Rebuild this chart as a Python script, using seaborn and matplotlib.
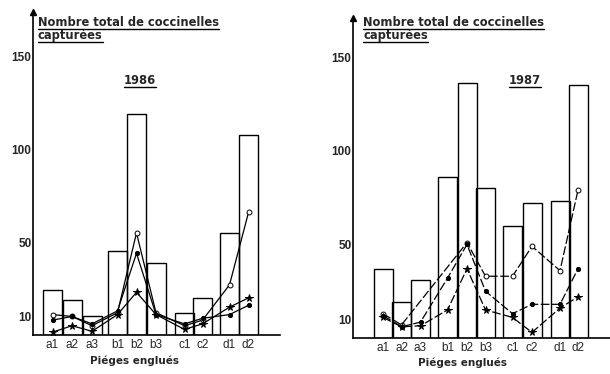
import numpy as np
import pandas as pd
import matplotlib
matplotlib.use("Agg")
import matplotlib.pyplot as plt
from matplotlib.lines import Line2D
import seaborn as sns

# trap labels
traps = ["a1", "a2", "a3", "b1", "b2", "b3", "c1", "c2", "d1", "d2"]

# 1986 - total captured per trap (bars) and three sampling series (lines)
tot_1986 = [24, 19, 10, 45, 119, 39, 12, 20, 55, 108]
circ_1986 = [11, 10, 5, 12, 55, 12, 5, 8, 27, 66]
dot_1986 = [8, 10, 6, 13, 44, 11, 6, 9, 11, 16]
star_1986 = [1.5, 5, 2, 11, 23, 11, 3, 6, 15, 20]

# 1987
tot_1987 = [37, 19, 31, 86, 136, 80, 60, 72, 73, 135]
circ_1987 = [13, 7, np.nan, np.nan, 51, 33, 33, 49, 36, 79]
dot_1987 = [12, 6, 8.5, 32, 50, 25, 13, 18, 18, 37]
star_1987 = [11, 6, 6.5, 15, 37, 15, 11, 3, 16, 22]

# bar centres (layout, in axis units)
pos_1986 = [19.5, 39, 59, 84.5, 103.5, 123, 151.5, 169.5, 196.5, 215.5]
pos_1987 = [30, 48.5, 67.5, 94.5, 114, 132.5, 159.5, 179, 207, 225]

sns.set_style("white")
plt.rcParams['font.family'] = ['Liberation Sans', 'DejaVu Sans']

W, H = 610, 374
fig = plt.figure(figsize=(W / 100, H / 100), dpi=100)

def fbox(x0, y0, x1, y1):
    return [x0 / W, 1 - y1 / H, (x1 - x0) / W, (y1 - y0) / H]

ax1 = fig.add_axes(fbox(33, 12, 280, 335))
ax2 = fig.add_axes(fbox(353, 18, 610, 338))

panels = [
    (ax1, pos_1986, tot_1986, [circ_1986, dot_1986, star_1986], 174, 247, "-"),
    (ax2, pos_1987, tot_1987, [circ_1987, dot_1987, star_1987], 171, 257, (0, (7, 2))),
]

for ax, pos, tot, series, ytop, xr, ls in panels:
    ax.bar(pos, tot, width=19, fill=False, edgecolor="black", linewidth=1.0, zorder=2)
    markers = [dict(marker="o", markersize=3.5, markerfacecolor="white"),
               dict(marker="o", markersize=3, markerfacecolor="black"),
               dict(marker="*", markersize=5.5, markerfacecolor="black")]
    for vals, mk in zip(series, markers):
        df = pd.DataFrame({"x": pos, "y": vals}).dropna()
        sns.lineplot(data=df, x="x", y="y", ax=ax, color="black", linewidth=0.9,
                     linestyle=ls, markeredgecolor="black", markeredgewidth=0.7,
                     sort=False, zorder=3, **mk)
    ax.set_xlim(0, xr)
    ax.set_ylim(0, ytop)
    ax.set_yticks([10, 50, 100, 150])
    ax.set_yticklabels(["10", "50", "100", "150"], fontsize=8.5, fontweight="bold")
    ax.set_xticks(pos)
    ax.set_xticklabels(traps, fontsize=8.5)
    ax.tick_params(axis="y", direction="in", length=3, width=1, pad=1)
    ax.tick_params(axis="x", length=0, pad=3)
    ax.set_xlabel("")
    ax.set_ylabel("")
    for s in ["top", "right"]:
        ax.spines[s].set_visible(False)
    for s in ["left", "bottom"]:
        ax.spines[s].set_color("black")
        ax.spines[s].set_linewidth(1.2)
    ax.plot(0, 1, marker="^", color="black", markersize=4,
            transform=ax.transAxes, clip_on=False)
    ax.set_facecolor("none")

# texts
def ftext(x, y, s, **kw):
    return fig.text(x / W, 1 - y / H, s, **kw)

title_font = dict(family="DejaVu Sans", fontsize=8.3, fontweight="bold")
underlined = []  # (text artist, underline y in px from top)
for x0 in (38, 363):
    underlined.append((ftext(x0, 22, "Nombre total de coccinelles", ha="left",
                             va="center", **title_font), 29))
    underlined.append((ftext(x0, 35, "capturées", ha="left", va="center",
                             **title_font), 42))

underlined.append((ftext(140, 80, "1986", ha="center", va="center", **title_font), 87))
underlined.append((ftext(525, 80, "1987", ha="center", va="center", **title_font), 87))

ftext(135, 361, "Piéges englués", family="DejaVu Sans", fontsize=7.5,
      fontweight="bold", ha="center", va="center")
ftext(463, 363, "Piéges englués", family="DejaVu Sans", fontsize=7.5,
      fontweight="bold", ha="center", va="center")

fig.canvas.draw()
renderer = fig.canvas.get_renderer()
for t, ypx in underlined:
    bb = t.get_window_extent(renderer)
    yf = 1 - ypx / H
    fig.lines.append(Line2D([bb.x0 / W, bb.x1 / W], [yf, yf], color="black",
                            linewidth=1.0, transform=fig.transFigure, figure=fig))

fig.savefig("out.png", dpi=100, facecolor="white")
